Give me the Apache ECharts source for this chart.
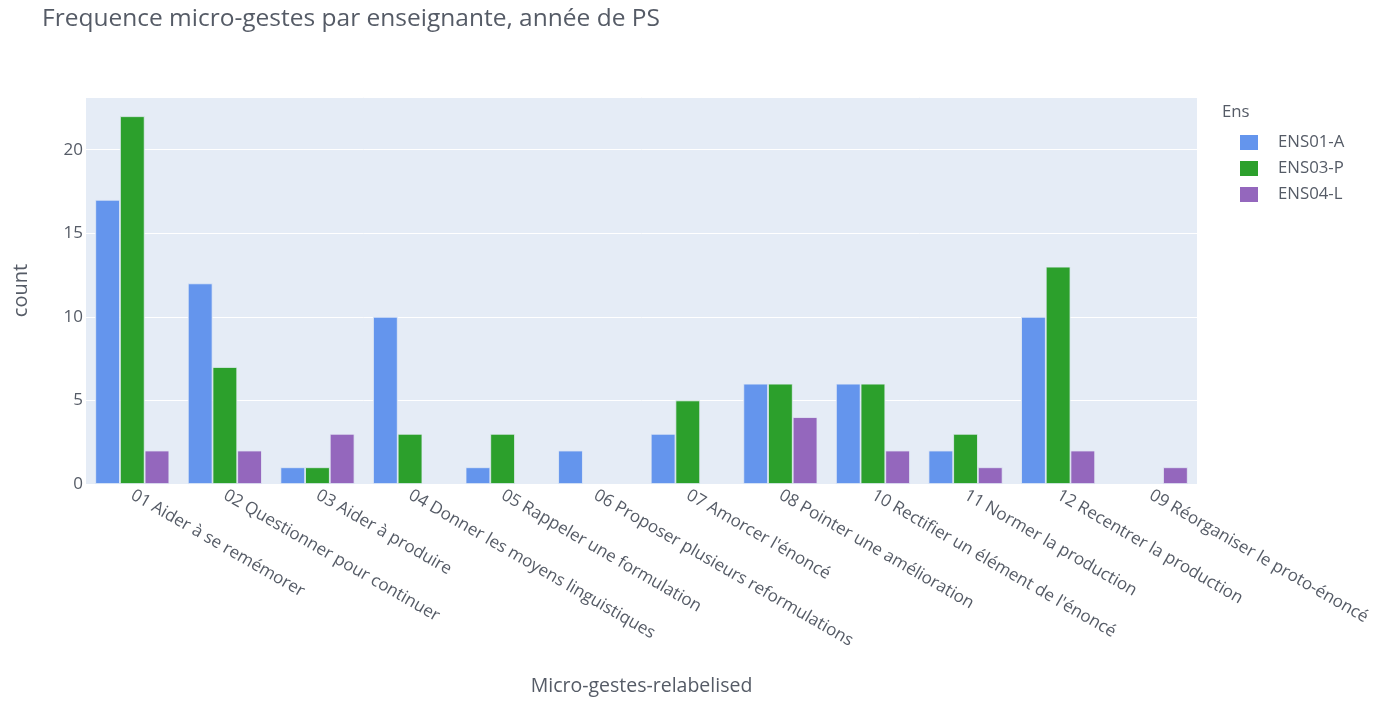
<!DOCTYPE html>
<html>
<head>
<meta charset="utf-8">
<script src="https://cdn.jsdelivr.net/npm/echarts@6/dist/echarts.min.js"></script>
<style>
html,body{margin:0;padding:0;background:#fff;}
#chart{width:1380px;height:701px;}
</style>
</head>
<body>
<div id="chart"></div>
<script>
const categories = [
  "01 Aider à se remémorer",
  "02 Questionner pour continuer",
  "03 Aider à produire",
  "04 Donner les moyens linguistiques",
  "05 Rappeler une formulation",
  "06 Proposer plusieurs reformulations",
  "07 Amorcer l'énoncé",
  "08 Pointer une amélioration",
  "10 Rectifier un élément de l'énoncé",
  "11 Normer la production",
  "12 Recentrer la production",
  "09 Réorganiser le proto-énoncé"
];
const seriesNames = ["ENS01-A", "ENS03-P", "ENS04-L"];
const ens01A = [17, 12, 1, 10, 1, 2, 3, 6, 6, 2, 10, '-'];
const ens03P = [22, 7, 1, 3, 3, '-', 5, 6, 6, 3, 13, '-'];
const ens04L = [2, 2, 3, '-', '-', '-', '-', 4, 2, 1, 2, 1];
const yTicks = [0, 5, 10, 15, 20];

const colors = ['#6495ED', '#2CA02C', '#9467BD'];
const textColor = '#555b66';
const font = 'Open Sans';

const chart = echarts.init(document.getElementById('chart'), null, {renderer: 'canvas'});
const mk = (name, data, i) => ({
  name: name,
  type: 'bar',
  data: data,
  barGap: '0%',
  barCategoryGap: '20%',
  itemStyle: {color: colors[i], borderColor: '#E5ECF6', borderWidth: 0.8}
});
chart.setOption({
  animation: false,
  textStyle: {fontFamily: font},
  title: {
    text: 'Frequence micro-gestes par enseignante, année de PS',
    left: 37, top: 2,
    textStyle: {fontFamily: font, fontSize: 24.5, fontWeight: 'normal', color: textColor}
  },
  legend: {
    orient: 'vertical',
    left: 1235, top: 129,
    itemWidth: 18, itemHeight: 15, itemGap: 9,
    icon: 'rect',
    itemStyle: {borderWidth: 0},
    textStyle: {fontFamily: font, fontSize: 16.8, lineHeight: 17, color: textColor, padding: [0, 0, 0, 15]},
    data: seriesNames
  },
  graphic: [{
    type: 'text', left: 1222, top: 104,
    style: {text: 'Ens', fontFamily: font, fontSize: 16.8, fill: textColor}
  }],
  grid: {
    left: 86, right: 183, top: 97, bottom: 214,
    show: true, backgroundColor: '#E5ECF6', borderWidth: 0, containLabel: false
  },
  xAxis: {
    type: 'category',
    data: categories,
    name: 'Micro-gestes-relabelised',
    nameLocation: 'middle',
    nameGap: 192,
    nameTextStyle: {fontFamily: font, fontSize: 19.5, color: textColor},
    axisLine: {show: false},
    axisTick: {show: false},
    axisLabel: {rotate: -30, interval: 0, margin: 10, fontFamily: font, fontSize: 17, color: textColor}
  },
  yAxis: {
    type: 'value',
    min: 0, max: 23.15, interval: 5,
    name: 'count',
    nameLocation: 'middle',
    nameGap: 55,
    nameTextStyle: {fontFamily: font, fontSize: 20, color: textColor},
    axisLine: {show: false},
    axisTick: {show: false},
    splitLine: {lineStyle: {color: '#ffffff', width: 1}},
    axisLabel: {
      fontFamily: font, fontSize: 17, color: textColor, margin: 3,
      showMaxLabel: false,
      formatter: v => (yTicks.indexOf(v) >= 0 ? String(v) : '')
    }
  },
  series: [mk(seriesNames[0], ens01A, 0), mk(seriesNames[1], ens03P, 1), mk(seriesNames[2], ens04L, 2)]
});
</script>
</body>
</html>
